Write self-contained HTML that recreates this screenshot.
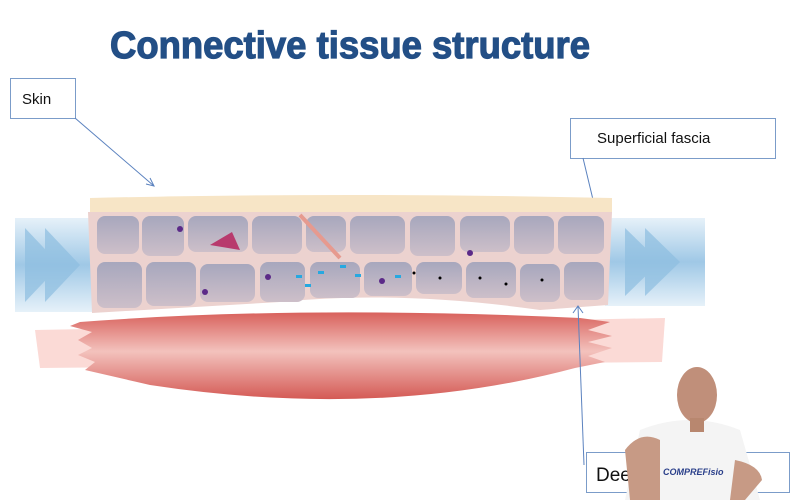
<!DOCTYPE html>
<html><head><meta charset="utf-8"><style>
body{margin:0;background:#fff;}
svg{display:block}
</style></head><body>
<svg width="800" height="500" viewBox="0 0 800 500" xmlns="http://www.w3.org/2000/svg">
<defs>
<linearGradient id="blue" x1="0" y1="0" x2="0" y2="1">
<stop offset="0" stop-color="#e6f1f9"/><stop offset="0.5" stop-color="#9fc8e6"/><stop offset="1" stop-color="#e6f1f9"/>
</linearGradient>
<linearGradient id="mus" x1="0" y1="0" x2="0" y2="1">
<stop offset="0" stop-color="#d8615c"/><stop offset="0.45" stop-color="#f3c2bd"/><stop offset="1" stop-color="#d45a55"/>
</linearGradient>
<linearGradient id="cell" x1="0" y1="0" x2="0" y2="1">
<stop offset="0" stop-color="#a7a7bd"/><stop offset="1" stop-color="#cdbfc9"/>
</linearGradient>
</defs>
<text x="110" y="58" font-family="Liberation Sans, sans-serif" font-weight="bold" font-size="38" fill="#234f86" stroke="#234f86" stroke-width="1.2" textLength="480" lengthAdjust="spacingAndGlyphs">Connective tissue structure</text>

<rect x="10.5" y="78.5" width="65" height="40" fill="#fff" stroke="#7b9cc9"/>
<text x="22" y="104" font-family="Liberation Sans, sans-serif" font-size="15" fill="#111">Skin</text>
<line x1="75" y1="118" x2="154" y2="186" stroke="#5b82bf"/>
<path d="M146 184 L154 186 L150 178" fill="none" stroke="#5b82bf"/>

<rect x="570.5" y="118.5" width="205" height="40" fill="#fff" stroke="#7b9cc9"/>
<text x="597" y="143" font-family="Liberation Sans, sans-serif" font-size="15" fill="#111">Superficial fascia</text>
<line x1="583" y1="158" x2="595" y2="208" stroke="#5b82bf"/>
<path d="M589 202 L595 208 L597 200" fill="none" stroke="#5b82bf"/>

<rect x="15" y="218" width="85" height="94" fill="url(#blue)"/>
<path d="M25 228 L60 265 L25 302Z M45 228 L80 265 L45 302Z" fill="#8dbde0" opacity="0.7"/>
<rect x="605" y="218" width="100" height="88" fill="url(#blue)"/>
<path d="M625 228 L660 262 L625 296Z M645 228 L680 262 L645 296Z" fill="#8dbde0" opacity="0.7"/>

<path d="M35 330 L665 318 L662 362 L40 368Z" fill="#fbdad6"/>
<path d="M80 322 Q300 305 580 318 L610 322 L588 330 L612 336 L588 342 L612 348 L588 356 L605 362 L575 368 Q380 420 150 385 L85 370 L95 362 L78 355 L92 348 L78 340 L92 332 L70 326Z" fill="url(#mus)"/>

<path d="M90 198 Q350 192 612 198 L612 212 L90 212Z" fill="#f7e5c6"/>
<path d="M88 212 L612 212 L608 305 L540 310 Q400 290 280 302 L92 313Z" fill="#ecd2cf"/>
<g fill="url(#cell)">
<rect x="97" y="216" width="42" height="38" rx="8"/>
<rect x="142" y="216" width="42" height="40" rx="8"/>
<rect x="188" y="216" width="60" height="36" rx="8"/>
<rect x="252" y="216" width="50" height="38" rx="8"/>
<rect x="306" y="216" width="40" height="36" rx="8"/>
<rect x="350" y="216" width="55" height="38" rx="8"/>
<rect x="410" y="216" width="45" height="40" rx="8"/>
<rect x="460" y="216" width="50" height="36" rx="8"/>
<rect x="514" y="216" width="40" height="38" rx="8"/>
<rect x="558" y="216" width="46" height="38" rx="8"/>
<rect x="97" y="262" width="45" height="46" rx="8"/>
<rect x="146" y="262" width="50" height="44" rx="8"/>
<rect x="200" y="264" width="55" height="38" rx="8"/>
<rect x="260" y="262" width="45" height="40" rx="8"/>
<rect x="310" y="262" width="50" height="36" rx="8"/>
<rect x="364" y="262" width="48" height="34" rx="8"/>
<rect x="416" y="262" width="46" height="32" rx="8"/>
<rect x="466" y="262" width="50" height="36" rx="8"/>
<rect x="520" y="264" width="40" height="38" rx="8"/>
<rect x="564" y="262" width="40" height="38" rx="8"/>
</g>
<path d="M210 245 L232 232 L240 250Z" fill="#b83a6d"/>
<line x1="300" y1="215" x2="340" y2="258" stroke="#e69a8f" stroke-width="4"/>
<g fill="#5b2a88"><circle cx="180" cy="229" r="3"/><circle cx="470" cy="253" r="3"/><circle cx="268" cy="277" r="3"/><circle cx="382" cy="281" r="3"/><circle cx="205" cy="292" r="3"/></g>
<g fill="#27a8e0"><rect x="296" y="275" width="6" height="3"/><rect x="318" y="271" width="6" height="3"/><rect x="340" y="265" width="6" height="3"/><rect x="355" y="274" width="6" height="3"/><rect x="305" y="284" width="6" height="3"/><rect x="395" y="275" width="6" height="3"/></g>
<g fill="#000"><circle cx="414" cy="273" r="1.5"/><circle cx="440" cy="278" r="1.5"/><circle cx="480" cy="278" r="1.5"/><circle cx="506" cy="284" r="1.5"/><circle cx="542" cy="280" r="1.5"/></g>

<line x1="578" y1="306" x2="584" y2="465" stroke="#5b82bf"/>
<path d="M573 313 L578 306 L583 313" fill="none" stroke="#5b82bf"/>
<rect x="586.5" y="452.5" width="203" height="40" fill="#fff" stroke="#7b9cc9"/>
<text x="596" y="481" font-family="Liberation Sans, sans-serif" font-size="19" fill="#111">Deep</text>

<path d="M640 430 Q690 410 740 430 L760 500 L625 500Z" fill="#f4f4f4"/>
<path d="M625 450 Q640 430 660 440 L660 500 L630 500Z" fill="#c79a85"/>
<path d="M735 460 Q760 465 762 480 L745 500 L730 500Z" fill="#c79a85"/>
<ellipse cx="697" cy="395" rx="20" ry="28" fill="#c08f7a"/>
<rect x="690" y="418" width="14" height="14" fill="#b8876f"/>
<text x="663" y="475" font-family="Liberation Sans, sans-serif" font-size="9" font-style="italic" font-weight="bold" fill="#2a3f8a">COMPREFisio</text>
</svg>
</body></html>
